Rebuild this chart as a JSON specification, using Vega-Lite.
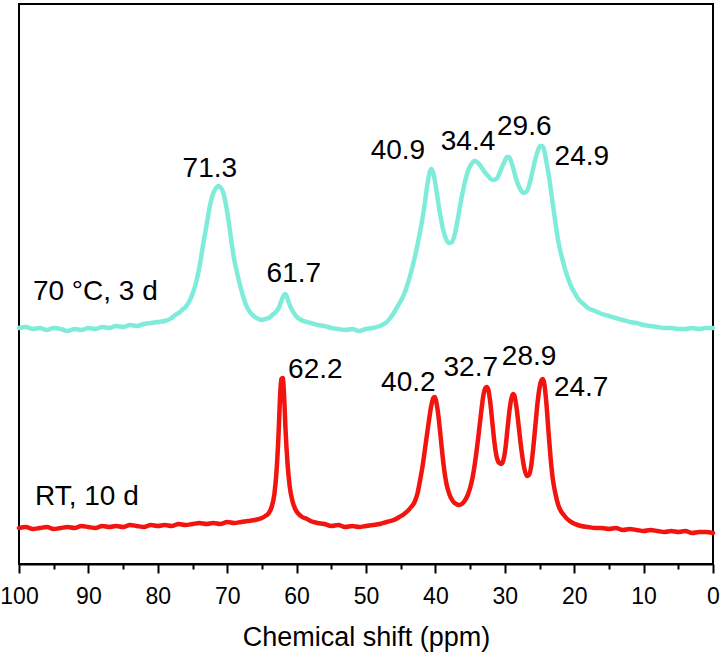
{
  "$schema": "https://vega.github.io/schema/vega-lite/v6.json",
  "width": 694,
  "height": 560,
  "autosize": "none",
  "padding": {"left": 19, "top": 4, "right": 11, "bottom": 93},
  "background": "white",
  "config": {
    "view": {"stroke": "#000000", "strokeWidth": 2},
    "font": "Liberation Sans",
    "axis": {"labelFont": "Liberation Sans", "titleFont": "Liberation Sans", "labelColor": "#000", "titleColor": "#000", "domainColor": "#000", "tickColor": "#000"}
  },
  "datasets": {
    "spectra": [
      {"s":"70 °C, 3 d","ppm":100,"i":236},{"s":"70 °C, 3 d","ppm":99,"i":237},{"s":"70 °C, 3 d","ppm":98,"i":235},{"s":"70 °C, 3 d","ppm":97,"i":236},{"s":"70 °C, 3 d","ppm":96,"i":234},{"s":"70 °C, 3 d","ppm":95,"i":236},{"s":"70 °C, 3 d","ppm":94,"i":235},{"s":"70 °C, 3 d","ppm":93,"i":233},{"s":"70 °C, 3 d","ppm":92,"i":235},{"s":"70 °C, 3 d","ppm":91,"i":234},{"s":"70 °C, 3 d","ppm":90,"i":236},{"s":"70 °C, 3 d","ppm":89,"i":235},{"s":"70 °C, 3 d","ppm":88,"i":237},{"s":"70 °C, 3 d","ppm":87,"i":236},{"s":"70 °C, 3 d","ppm":86,"i":238},{"s":"70 °C, 3 d","ppm":85,"i":237},{"s":"70 °C, 3 d","ppm":84,"i":239},{"s":"70 °C, 3 d","ppm":83,"i":238},{"s":"70 °C, 3 d","ppm":82,"i":240},{"s":"70 °C, 3 d","ppm":81,"i":241},{"s":"70 °C, 3 d","ppm":80,"i":242},{"s":"70 °C, 3 d","ppm":79,"i":243},{"s":"70 °C, 3 d","ppm":78,"i":246},{"s":"70 °C, 3 d","ppm":77.5,"i":249},{"s":"70 °C, 3 d","ppm":77,"i":251},{"s":"70 °C, 3 d","ppm":76.5,"i":254},{"s":"70 °C, 3 d","ppm":76,"i":257},{"s":"70 °C, 3 d","ppm":75.5,"i":262},{"s":"70 °C, 3 d","ppm":75,"i":270},{"s":"70 °C, 3 d","ppm":74.5,"i":281},{"s":"70 °C, 3 d","ppm":74,"i":297},{"s":"70 °C, 3 d","ppm":73.5,"i":318},{"s":"70 °C, 3 d","ppm":73,"i":338},{"s":"70 °C, 3 d","ppm":72.5,"i":358},{"s":"70 °C, 3 d","ppm":72,"i":371},{"s":"70 °C, 3 d","ppm":71.6,"i":376},{"s":"70 °C, 3 d","ppm":71.3,"i":378},{"s":"70 °C, 3 d","ppm":71,"i":377},{"s":"70 °C, 3 d","ppm":70.6,"i":372},{"s":"70 °C, 3 d","ppm":70.2,"i":360},{"s":"70 °C, 3 d","ppm":69.8,"i":343},{"s":"70 °C, 3 d","ppm":69.4,"i":323},{"s":"70 °C, 3 d","ppm":69,"i":305},{"s":"70 °C, 3 d","ppm":68.6,"i":292},{"s":"70 °C, 3 d","ppm":68.2,"i":280},{"s":"70 °C, 3 d","ppm":67.8,"i":270},{"s":"70 °C, 3 d","ppm":67.4,"i":261},{"s":"70 °C, 3 d","ppm":67,"i":255},{"s":"70 °C, 3 d","ppm":66.5,"i":250},{"s":"70 °C, 3 d","ppm":66,"i":247},{"s":"70 °C, 3 d","ppm":65.5,"i":245},{"s":"70 °C, 3 d","ppm":65,"i":244},{"s":"70 °C, 3 d","ppm":64.5,"i":245},{"s":"70 °C, 3 d","ppm":64,"i":246},{"s":"70 °C, 3 d","ppm":63.5,"i":249},{"s":"70 °C, 3 d","ppm":63,"i":252},{"s":"70 °C, 3 d","ppm":62.5,"i":257},{"s":"70 °C, 3 d","ppm":62.2,"i":263},{"s":"70 °C, 3 d","ppm":61.9,"i":268},{"s":"70 °C, 3 d","ppm":61.7,"i":270},{"s":"70 °C, 3 d","ppm":61.5,"i":269},{"s":"70 °C, 3 d","ppm":61.2,"i":263},{"s":"70 °C, 3 d","ppm":60.8,"i":256},{"s":"70 °C, 3 d","ppm":60.3,"i":250},{"s":"70 °C, 3 d","ppm":59.8,"i":246},{"s":"70 °C, 3 d","ppm":59,"i":243},{"s":"70 °C, 3 d","ppm":58,"i":241},{"s":"70 °C, 3 d","ppm":57,"i":239},{"s":"70 °C, 3 d","ppm":56,"i":238},{"s":"70 °C, 3 d","ppm":55,"i":236},{"s":"70 °C, 3 d","ppm":54,"i":235},{"s":"70 °C, 3 d","ppm":53,"i":234},{"s":"70 °C, 3 d","ppm":52,"i":235},{"s":"70 °C, 3 d","ppm":51,"i":233},{"s":"70 °C, 3 d","ppm":50,"i":235},{"s":"70 °C, 3 d","ppm":49,"i":236},{"s":"70 °C, 3 d","ppm":48,"i":238},{"s":"70 °C, 3 d","ppm":47,"i":242},{"s":"70 °C, 3 d","ppm":46.5,"i":246},{"s":"70 °C, 3 d","ppm":46,"i":251},{"s":"70 °C, 3 d","ppm":45.5,"i":257},{"s":"70 °C, 3 d","ppm":45,"i":263},{"s":"70 °C, 3 d","ppm":44.5,"i":270},{"s":"70 °C, 3 d","ppm":44,"i":280},{"s":"70 °C, 3 d","ppm":43.5,"i":292},{"s":"70 °C, 3 d","ppm":43,"i":306},{"s":"70 °C, 3 d","ppm":42.5,"i":322},{"s":"70 °C, 3 d","ppm":42,"i":340},{"s":"70 °C, 3 d","ppm":41.5,"i":362},{"s":"70 °C, 3 d","ppm":41.1,"i":382},{"s":"70 °C, 3 d","ppm":40.8,"i":392},{"s":"70 °C, 3 d","ppm":40.6,"i":395},{"s":"70 °C, 3 d","ppm":40.3,"i":391},{"s":"70 °C, 3 d","ppm":40,"i":380},{"s":"70 °C, 3 d","ppm":39.6,"i":362},{"s":"70 °C, 3 d","ppm":39.2,"i":345},{"s":"70 °C, 3 d","ppm":38.8,"i":332},{"s":"70 °C, 3 d","ppm":38.4,"i":324},{"s":"70 °C, 3 d","ppm":38,"i":321},{"s":"70 °C, 3 d","ppm":37.6,"i":322},{"s":"70 °C, 3 d","ppm":37.2,"i":330},{"s":"70 °C, 3 d","ppm":36.8,"i":344},{"s":"70 °C, 3 d","ppm":36.4,"i":360},{"s":"70 °C, 3 d","ppm":36,"i":374},{"s":"70 °C, 3 d","ppm":35.6,"i":386},{"s":"70 °C, 3 d","ppm":35.2,"i":395},{"s":"70 °C, 3 d","ppm":34.8,"i":400},{"s":"70 °C, 3 d","ppm":34.4,"i":403},{"s":"70 °C, 3 d","ppm":34,"i":402},{"s":"70 °C, 3 d","ppm":33.6,"i":399},{"s":"70 °C, 3 d","ppm":33.2,"i":395},{"s":"70 °C, 3 d","ppm":32.8,"i":391},{"s":"70 °C, 3 d","ppm":32.4,"i":388},{"s":"70 °C, 3 d","ppm":32,"i":385},{"s":"70 °C, 3 d","ppm":31.6,"i":384},{"s":"70 °C, 3 d","ppm":31.2,"i":385},{"s":"70 °C, 3 d","ppm":30.8,"i":390},{"s":"70 °C, 3 d","ppm":30.4,"i":397},{"s":"70 °C, 3 d","ppm":30,"i":403},{"s":"70 °C, 3 d","ppm":29.7,"i":407},{"s":"70 °C, 3 d","ppm":29.4,"i":407},{"s":"70 °C, 3 d","ppm":29.1,"i":403},{"s":"70 °C, 3 d","ppm":28.8,"i":396},{"s":"70 °C, 3 d","ppm":28.4,"i":386},{"s":"70 °C, 3 d","ppm":28,"i":378},{"s":"70 °C, 3 d","ppm":27.6,"i":373},{"s":"70 °C, 3 d","ppm":27.2,"i":371},{"s":"70 °C, 3 d","ppm":26.8,"i":373},{"s":"70 °C, 3 d","ppm":26.4,"i":381},{"s":"70 °C, 3 d","ppm":26,"i":393},{"s":"70 °C, 3 d","ppm":25.6,"i":405},{"s":"70 °C, 3 d","ppm":25.2,"i":414},{"s":"70 °C, 3 d","ppm":24.9,"i":418},{"s":"70 °C, 3 d","ppm":24.6,"i":418},{"s":"70 °C, 3 d","ppm":24.3,"i":413},{"s":"70 °C, 3 d","ppm":24,"i":402},{"s":"70 °C, 3 d","ppm":23.6,"i":386},{"s":"70 °C, 3 d","ppm":23.2,"i":366},{"s":"70 °C, 3 d","ppm":22.8,"i":346},{"s":"70 °C, 3 d","ppm":22.4,"i":327},{"s":"70 °C, 3 d","ppm":22,"i":313},{"s":"70 °C, 3 d","ppm":21.6,"i":302},{"s":"70 °C, 3 d","ppm":21.2,"i":292},{"s":"70 °C, 3 d","ppm":20.8,"i":284},{"s":"70 °C, 3 d","ppm":20.4,"i":277},{"s":"70 °C, 3 d","ppm":20,"i":272},{"s":"70 °C, 3 d","ppm":19.5,"i":266},{"s":"70 °C, 3 d","ppm":19,"i":262},{"s":"70 °C, 3 d","ppm":18.5,"i":259},{"s":"70 °C, 3 d","ppm":18,"i":256},{"s":"70 °C, 3 d","ppm":17,"i":253},{"s":"70 °C, 3 d","ppm":16,"i":250},{"s":"70 °C, 3 d","ppm":15,"i":248},{"s":"70 °C, 3 d","ppm":14,"i":246},{"s":"70 °C, 3 d","ppm":13,"i":244},{"s":"70 °C, 3 d","ppm":12,"i":242},{"s":"70 °C, 3 d","ppm":11,"i":241},{"s":"70 °C, 3 d","ppm":10,"i":239},{"s":"70 °C, 3 d","ppm":9,"i":238},{"s":"70 °C, 3 d","ppm":8,"i":237},{"s":"70 °C, 3 d","ppm":7,"i":236},{"s":"70 °C, 3 d","ppm":6,"i":236},{"s":"70 °C, 3 d","ppm":5,"i":235},{"s":"70 °C, 3 d","ppm":4,"i":235},{"s":"70 °C, 3 d","ppm":3,"i":236},{"s":"70 °C, 3 d","ppm":2,"i":235},{"s":"70 °C, 3 d","ppm":1,"i":236},{"s":"70 °C, 3 d","ppm":0,"i":236},
      {"s":"RT, 10 d","ppm":100,"i":36},{"s":"RT, 10 d","ppm":99,"i":37},{"s":"RT, 10 d","ppm":98,"i":35},{"s":"RT, 10 d","ppm":97,"i":36},{"s":"RT, 10 d","ppm":96,"i":37},{"s":"RT, 10 d","ppm":95,"i":35},{"s":"RT, 10 d","ppm":94,"i":36},{"s":"RT, 10 d","ppm":93,"i":37},{"s":"RT, 10 d","ppm":92,"i":36},{"s":"RT, 10 d","ppm":91,"i":38},{"s":"RT, 10 d","ppm":90,"i":37},{"s":"RT, 10 d","ppm":89,"i":36},{"s":"RT, 10 d","ppm":88,"i":38},{"s":"RT, 10 d","ppm":87,"i":37},{"s":"RT, 10 d","ppm":86,"i":38},{"s":"RT, 10 d","ppm":85,"i":37},{"s":"RT, 10 d","ppm":84,"i":39},{"s":"RT, 10 d","ppm":83,"i":38},{"s":"RT, 10 d","ppm":82,"i":37},{"s":"RT, 10 d","ppm":81,"i":39},{"s":"RT, 10 d","ppm":80,"i":38},{"s":"RT, 10 d","ppm":79,"i":39},{"s":"RT, 10 d","ppm":78,"i":38},{"s":"RT, 10 d","ppm":77,"i":40},{"s":"RT, 10 d","ppm":76,"i":39},{"s":"RT, 10 d","ppm":75,"i":40},{"s":"RT, 10 d","ppm":74,"i":41},{"s":"RT, 10 d","ppm":73,"i":40},{"s":"RT, 10 d","ppm":72,"i":41},{"s":"RT, 10 d","ppm":71,"i":40},{"s":"RT, 10 d","ppm":70,"i":42},{"s":"RT, 10 d","ppm":69,"i":41},{"s":"RT, 10 d","ppm":68,"i":42},{"s":"RT, 10 d","ppm":67,"i":43},{"s":"RT, 10 d","ppm":66,"i":44},{"s":"RT, 10 d","ppm":65,"i":46},{"s":"RT, 10 d","ppm":64.5,"i":48},{"s":"RT, 10 d","ppm":64,"i":51},{"s":"RT, 10 d","ppm":63.6,"i":57},{"s":"RT, 10 d","ppm":63.2,"i":70},{"s":"RT, 10 d","ppm":62.9,"i":92},{"s":"RT, 10 d","ppm":62.6,"i":130},{"s":"RT, 10 d","ppm":62.4,"i":165},{"s":"RT, 10 d","ppm":62.2,"i":185},{"s":"RT, 10 d","ppm":62.0,"i":186},{"s":"RT, 10 d","ppm":61.8,"i":168},{"s":"RT, 10 d","ppm":61.6,"i":135},{"s":"RT, 10 d","ppm":61.3,"i":100},{"s":"RT, 10 d","ppm":61.0,"i":78},{"s":"RT, 10 d","ppm":60.6,"i":63},{"s":"RT, 10 d","ppm":60.2,"i":55},{"s":"RT, 10 d","ppm":59.7,"i":50},{"s":"RT, 10 d","ppm":59.2,"i":47},{"s":"RT, 10 d","ppm":58.5,"i":45},{"s":"RT, 10 d","ppm":58,"i":43},{"s":"RT, 10 d","ppm":57,"i":41},{"s":"RT, 10 d","ppm":56,"i":40},{"s":"RT, 10 d","ppm":55,"i":38},{"s":"RT, 10 d","ppm":54,"i":39},{"s":"RT, 10 d","ppm":53,"i":37},{"s":"RT, 10 d","ppm":52,"i":38},{"s":"RT, 10 d","ppm":51,"i":37},{"s":"RT, 10 d","ppm":50,"i":38},{"s":"RT, 10 d","ppm":49,"i":39},{"s":"RT, 10 d","ppm":48,"i":40},{"s":"RT, 10 d","ppm":47,"i":42},{"s":"RT, 10 d","ppm":46,"i":44},{"s":"RT, 10 d","ppm":45.2,"i":47},{"s":"RT, 10 d","ppm":44.5,"i":50},{"s":"RT, 10 d","ppm":44,"i":53},{"s":"RT, 10 d","ppm":43.5,"i":57},{"s":"RT, 10 d","ppm":43,"i":62},{"s":"RT, 10 d","ppm":42.6,"i":70},{"s":"RT, 10 d","ppm":42.2,"i":84},{"s":"RT, 10 d","ppm":41.8,"i":100},{"s":"RT, 10 d","ppm":41.4,"i":120},{"s":"RT, 10 d","ppm":41,"i":140},{"s":"RT, 10 d","ppm":40.6,"i":158},{"s":"RT, 10 d","ppm":40.3,"i":166},{"s":"RT, 10 d","ppm":40.1,"i":167},{"s":"RT, 10 d","ppm":39.9,"i":163},{"s":"RT, 10 d","ppm":39.6,"i":150},{"s":"RT, 10 d","ppm":39.2,"i":124},{"s":"RT, 10 d","ppm":38.8,"i":98},{"s":"RT, 10 d","ppm":38.4,"i":80},{"s":"RT, 10 d","ppm":38,"i":70},{"s":"RT, 10 d","ppm":37.5,"i":63},{"s":"RT, 10 d","ppm":37,"i":60},{"s":"RT, 10 d","ppm":36.6,"i":59},{"s":"RT, 10 d","ppm":36.2,"i":60},{"s":"RT, 10 d","ppm":35.8,"i":63},{"s":"RT, 10 d","ppm":35.4,"i":68},{"s":"RT, 10 d","ppm":35,"i":76},{"s":"RT, 10 d","ppm":34.6,"i":88},{"s":"RT, 10 d","ppm":34.2,"i":106},{"s":"RT, 10 d","ppm":33.8,"i":128},{"s":"RT, 10 d","ppm":33.4,"i":152},{"s":"RT, 10 d","ppm":33.1,"i":168},{"s":"RT, 10 d","ppm":32.8,"i":176},{"s":"RT, 10 d","ppm":32.6,"i":177},{"s":"RT, 10 d","ppm":32.4,"i":175},{"s":"RT, 10 d","ppm":32.1,"i":162},{"s":"RT, 10 d","ppm":31.8,"i":142},{"s":"RT, 10 d","ppm":31.5,"i":122},{"s":"RT, 10 d","ppm":31.2,"i":108},{"s":"RT, 10 d","ppm":30.8,"i":101},{"s":"RT, 10 d","ppm":30.5,"i":100},{"s":"RT, 10 d","ppm":30.2,"i":104},{"s":"RT, 10 d","ppm":29.9,"i":116},{"s":"RT, 10 d","ppm":29.6,"i":136},{"s":"RT, 10 d","ppm":29.3,"i":155},{"s":"RT, 10 d","ppm":29.0,"i":167},{"s":"RT, 10 d","ppm":28.8,"i":170},{"s":"RT, 10 d","ppm":28.6,"i":168},{"s":"RT, 10 d","ppm":28.3,"i":156},{"s":"RT, 10 d","ppm":28,"i":138},{"s":"RT, 10 d","ppm":27.6,"i":114},{"s":"RT, 10 d","ppm":27.2,"i":96},{"s":"RT, 10 d","ppm":26.8,"i":88},{"s":"RT, 10 d","ppm":26.5,"i":89},{"s":"RT, 10 d","ppm":26.2,"i":98},{"s":"RT, 10 d","ppm":25.9,"i":116},{"s":"RT, 10 d","ppm":25.6,"i":138},{"s":"RT, 10 d","ppm":25.3,"i":160},{"s":"RT, 10 d","ppm":25.0,"i":176},{"s":"RT, 10 d","ppm":24.7,"i":184},{"s":"RT, 10 d","ppm":24.5,"i":185},{"s":"RT, 10 d","ppm":24.3,"i":180},{"s":"RT, 10 d","ppm":24.0,"i":160},{"s":"RT, 10 d","ppm":23.7,"i":132},{"s":"RT, 10 d","ppm":23.4,"i":106},{"s":"RT, 10 d","ppm":23.1,"i":86},{"s":"RT, 10 d","ppm":22.7,"i":70},{"s":"RT, 10 d","ppm":22.3,"i":59},{"s":"RT, 10 d","ppm":22,"i":54},{"s":"RT, 10 d","ppm":21.5,"i":49},{"s":"RT, 10 d","ppm":21,"i":45},{"s":"RT, 10 d","ppm":20.2,"i":41},{"s":"RT, 10 d","ppm":19.5,"i":39},{"s":"RT, 10 d","ppm":19,"i":38},{"s":"RT, 10 d","ppm":18,"i":37},{"s":"RT, 10 d","ppm":17,"i":36},{"s":"RT, 10 d","ppm":16,"i":36},{"s":"RT, 10 d","ppm":15,"i":35},{"s":"RT, 10 d","ppm":14,"i":36},{"s":"RT, 10 d","ppm":13,"i":34},{"s":"RT, 10 d","ppm":12,"i":35},{"s":"RT, 10 d","ppm":11,"i":34},{"s":"RT, 10 d","ppm":10,"i":33},{"s":"RT, 10 d","ppm":9,"i":34},{"s":"RT, 10 d","ppm":8,"i":33},{"s":"RT, 10 d","ppm":7,"i":32},{"s":"RT, 10 d","ppm":6,"i":33},{"s":"RT, 10 d","ppm":5,"i":32},{"s":"RT, 10 d","ppm":4,"i":33},{"s":"RT, 10 d","ppm":3,"i":31},{"s":"RT, 10 d","ppm":2,"i":32},{"s":"RT, 10 d","ppm":1,"i":32},{"s":"RT, 10 d","ppm":0,"i":31}
    ],
    "peaks": [
      {"t":"71.3","ppm":72.5,"i":395},
      {"t":"61.7","ppm":60.4,"i":290},
      {"t":"40.9","ppm":45.4,"i":413},
      {"t":"34.4","ppm":35.3,"i":422},
      {"t":"29.6","ppm":27.2,"i":437},
      {"t":"24.9","ppm":18.9,"i":407},
      {"t":"62.2","ppm":57.3,"i":194},
      {"t":"40.2","ppm":43.9,"i":181},
      {"t":"32.7","ppm":34.9,"i":196},
      {"t":"28.9","ppm":26.5,"i":207},
      {"t":"24.7","ppm":19.0,"i":176}
    ],
    "samples": [
      {"t":"70 °C, 3 d","ppm":98.0,"i":272},
      {"t":"RT, 10 d","ppm":97.7,"i":67}
    ]
  },
  "layer": [
    {
      "data": {"name": "spectra"},
      "mark": {"type": "line", "strokeWidth": 4.5, "interpolate": "monotone", "strokeJoin": "round", "strokeCap": "round"},
      "encoding": {
        "x": {"field": "ppm", "type": "quantitative",
              "scale": {"domain": [0, 100], "reverse": true, "nice": false, "zero": false},
              "axis": {"orient": "bottom", "values": [0,10,20,30,40,50,60,70,80,90,100], "grid": false, "tickSize": 9, "tickWidth": 2, "domainWidth": 2, "labelFontSize": 23, "labelPadding": 12, "labelFlush": false, "labelOverlap": false, "title": "Chemical shift (ppm)", "titleFontSize": 27, "titleFontWeight": "normal", "titlePadding": 16}},
        "y": {"field": "i", "type": "quantitative", "scale": {"domain": [0, 560], "nice": false, "zero": false}, "axis": null},
        "color": {"field": "s", "type": "nominal", "scale": {"domain": ["70 °C, 3 d", "RT, 10 d"], "range": ["#7EECD8", "#F2140E"]}, "legend": null},
        "detail": {"field": "s"}
      }
    },
    {
      "data": {"name": "peaks"},
      "mark": {"type": "text", "fontSize": 28, "font": "Liberation Sans", "align": "center", "baseline": "middle", "color": "#000"},
      "encoding": {
        "x": {"field": "ppm", "type": "quantitative",
              "axis": {"orient": "bottom", "values": [5,15,25,35,45,55,65,75,85,95], "grid": false, "labels": false, "domain": false, "tickSize": 5, "tickWidth": 2, "title": null}},
        "y": {"field": "i", "type": "quantitative", "axis": null},
        "text": {"field": "t"}
      }
    },
    {
      "data": {"name": "samples"},
      "mark": {"type": "text", "fontSize": 28, "font": "Liberation Sans", "align": "left", "baseline": "middle", "color": "#000"},
      "encoding": {
        "x": {"field": "ppm", "type": "quantitative", "axis": null},
        "y": {"field": "i", "type": "quantitative", "axis": null},
        "text": {"field": "t"}
      }
    }
  ],
  "resolve": {"axis": {"x": "independent"}}
}
